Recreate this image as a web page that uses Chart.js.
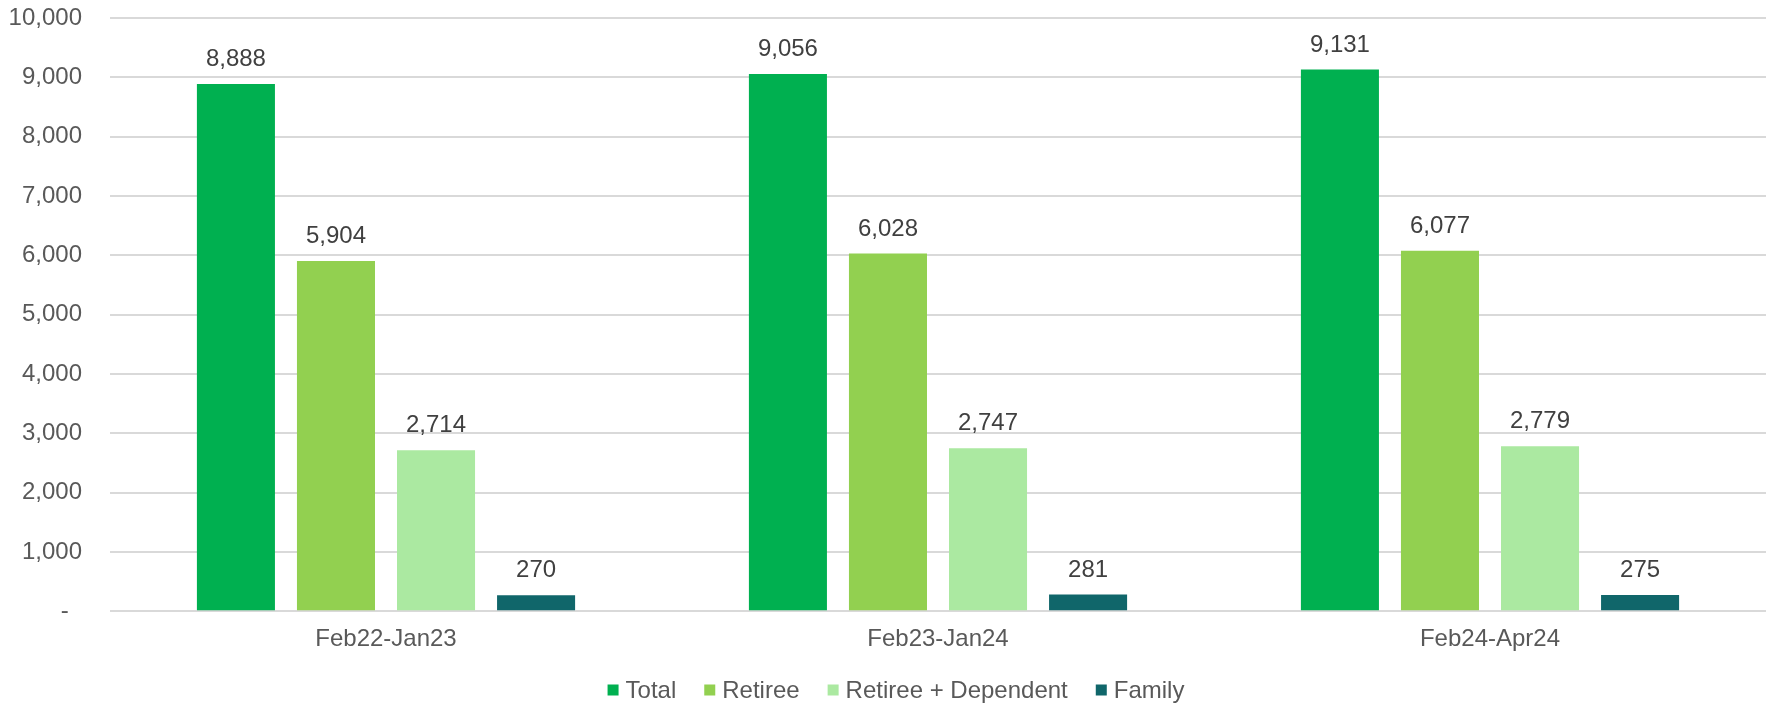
<!DOCTYPE html>
<html>
<head>
<meta charset="utf-8">
<script src="https://cdn.jsdelivr.net/npm/chart.js@4.4.1/dist/chart.umd.min.js"></script>
<style>
  html, body { margin: 0; padding: 0; background: #fff; }
  #wrap { width: 1768px; height: 704px; }
</style>
</head>
<body>
<div id="wrap"><canvas id="chart" width="1768" height="704"></canvas></div>
<script>
// DATA
const periods = ["Feb22-Jan23", "Feb23-Jan24", "Feb24-Apr24"];
const total = [8888, 9056, 9131];
const retiree = [5904, 6028, 6077];
const retireeDependent = [2714, 2747, 2779];
const family = [270, 281, 275];
const yTicks = [0, 1000, 2000, 3000, 4000, 5000, 6000, 7000, 8000, 9000, 10000];

const FONT = "'Liberation Sans', Arial, sans-serif";
const SIZE = 24;

// value labels above each bar
const barLabels = {
  id: "barLabels",
  afterDatasetsDraw(chart) {
    const c = chart.ctx;
    c.save();
    c.font = SIZE + "px " + FONT;
    c.fillStyle = "#404040";
    c.textAlign = "center";
    c.textBaseline = "alphabetic";
    chart.data.datasets.forEach((ds, i) => {
      chart.getDatasetMeta(i).data.forEach((bar, j) => {
        c.fillText(ds.data[j].toLocaleString("en-US"), bar.x, bar.y - 18);
      });
    });
    c.restore();
  }
};

// legend at the bottom, square marker close to the text (excel style)
const bottomLegend = {
  id: "bottomLegend",
  afterDraw(chart) {
    const c = chart.ctx;
    const box = 11, gap = 7, spacing = 28;
    const y = 690;
    c.save();
    c.font = SIZE + "px " + FONT;
    c.textBaseline = "middle";
    const items = chart.data.datasets.map(ds => ({
      text: ds.label, color: ds.backgroundColor, w: c.measureText(ds.label).width
    }));
    let width = items.reduce((s, it) => s + box + gap + it.w, 0) + spacing * (items.length - 1);
    let x = (chart.width - width) / 2 + 12;
    items.forEach(it => {
      c.fillStyle = it.color;
      c.fillRect(x, y - box / 2, box, box);
      c.fillStyle = "#595959";
      c.fillText(it.text, x + box + gap, y + 1);
      x += box + gap + it.w + spacing;
    });
    c.restore();
  }
};

new Chart(document.getElementById("chart"), {
  type: "bar",
  data: {
    labels: periods,
    datasets: [
      { label: "Total", data: total, backgroundColor: "#00b050" },
      { label: "Retiree", data: retiree, backgroundColor: "#92d050" },
      { label: "Retiree + Dependent", data: retireeDependent, backgroundColor: "#abe9a1" },
      { label: "Family", data: family, backgroundColor: "#10666a" }
    ]
  },
  options: {
    responsive: false,
    animation: false,
    datasets: { bar: { categoryPercentage: 0.725, barPercentage: 0.78 } },
    layout: { padding: { top: 18, right: 2, left: 0, bottom: 44 } },
    plugins: {
      legend: { display: false },
      tooltip: { enabled: false }
    },
    scales: {
      y: {
        min: 0,
        max: 10000,
        afterBuildTicks: s => { s.ticks = yTicks.map(v => ({ value: v })); },
        afterFit: s => { s.width = 110; s.paddingTop = 0; },
        border: { display: false },
        grid: { color: "#d9d9d9", lineWidth: 2, drawTicks: false },
        ticks: {
          padding: 28,
          color: "#595959",
          font: { family: FONT, size: SIZE },
          callback: v => v === 0 ? "-  " : v.toLocaleString("en-US")
        }
      },
      x: {
        border: { display: false },
        grid: { display: false },
        ticks: {
          padding: 6,
          color: "#595959",
          font: { family: FONT, size: SIZE }
        }
      }
    }
  },
  plugins: [barLabels, bottomLegend]
});
</script>
</body>
</html>
